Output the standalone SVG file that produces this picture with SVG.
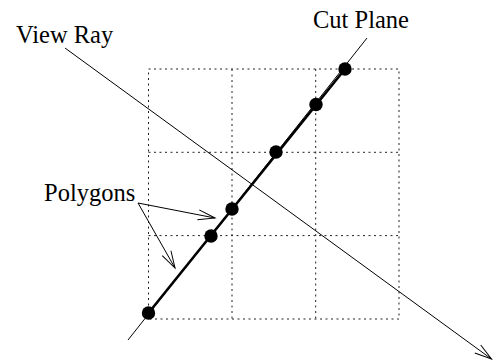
<svg xmlns="http://www.w3.org/2000/svg" width="497" height="360" viewBox="0 0 497 360">
<style>
text{font-family:"Liberation Serif","Times New Roman",serif;font-size:24.5px;fill:#000}
.grid{stroke:#222;stroke-width:1;stroke-dasharray:2 3.5;fill:none}
.thin{stroke:#000;stroke-width:1;fill:none}
.thick{stroke:#000;stroke-width:2.6;fill:none}
.ah{stroke:#000;stroke-width:1;fill:none}
</style>
<defs>
<marker id="open" markerWidth="22" markerHeight="14" refX="18" refY="6" orient="auto" markerUnits="userSpaceOnUse">
<path d="M1,1 L18,6 L1,11" class="ah"/>
</marker>
</defs>
<g id="grid">
<rect x="148.5" y="69" width="250.5" height="250" class="grid"/>
<line x1="232" y1="69" x2="232" y2="319" class="grid"/>
<line x1="315.7" y1="69" x2="315.7" y2="319" class="grid"/>
<line x1="148.5" y1="152.3" x2="399" y2="152.3" class="grid"/>
<line x1="148.5" y1="235.6" x2="399" y2="235.6" class="grid"/>
</g>
<g id="connectors">
<line x1="65" y1="48" x2="491.5" y2="359" class="thin" marker-end="url(#open)"/>
<line x1="128" y1="340" x2="367" y2="38" class="thin"/>
<line x1="148.5" y1="313" x2="345" y2="69" class="thick"/>
<line x1="138" y1="203" x2="215" y2="218" class="thin" marker-end="url(#open)"/>
<line x1="138" y1="203" x2="175" y2="268" class="thin" marker-end="url(#open)"/>
</g>
<g id="polygons">
<circle cx="148.5" cy="313" r="6.7"/>
<circle cx="211" cy="236" r="6.7"/>
<circle cx="232" cy="209" r="6.7"/>
<circle cx="276" cy="152" r="6.7"/>
<circle cx="316" cy="104.5" r="6.7"/>
<circle cx="345" cy="69" r="6.7"/>
</g>
<g id="label-view-ray"><text x="16" y="43">View Ray</text></g>
<g id="label-cut-plane"><text x="313" y="28">Cut Plane</text></g>
<g id="label-polygons"><text x="44" y="201">Polygons</text></g>
</svg>
